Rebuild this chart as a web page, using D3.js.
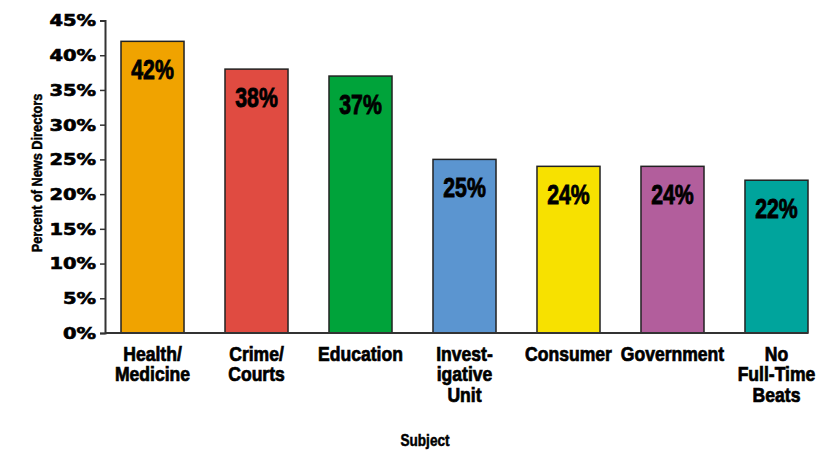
<!DOCTYPE html>
<html>
<head>
<meta charset="utf-8">
<script src="https://cdn.jsdelivr.net/npm/d3@7/dist/d3.min.js"></script>
<style>
  html, body { margin: 0; padding: 0; background: #fff; }
  svg { display: block; }
</style>
</head>
<body>
<svg id="chart" width="834" height="451"></svg>
<script>
// Beats covered by full-time reporters
const categories = [
  ["Health/", "Medicine"],
  ["Crime/", "Courts"],
  ["Education"],
  ["Invest-", "igative", "Unit"],
  ["Consumer"],
  ["Government"],
  ["No", "Full-Time", "Beats"]
];
const values = [42, 38, 37, 25, 24, 24, 22];
const colors = ["#F0A300", "#E04B41", "#00A33A", "#5B95D0", "#F7E100", "#B25E9C", "#00A49C"];
const yTicks = [0, 5, 10, 15, 20, 25, 30, 35, 40, 45];

// Heavy sans, squeezed horizontally for a condensed look
const sans = "'Liberation Sans', Arial, Helvetica, sans-serif";
const wide = "'DejaVu Sans', Verdana, sans-serif";

const svg = d3.select("#chart");
const keys = categories.map((c, i) => i);

const x = d3.scaleBand()
  .domain(keys)
  .range([121, 808])
  .paddingInner(0.394)
  .paddingOuter(0);

const y = d3.scaleLinear()
  .domain([0, 45])
  .range([333, 20.5]);

const cx = i => x(i) + x.bandwidth() / 2;

// Extra stroke on glyphs to thicken them toward a black weight
const heavy = (sel, w) => sel.attr("stroke", "#000").attr("stroke-width", w).attr("paint-order", "stroke");

// Bars
svg.append("g").selectAll("rect")
  .data(values)
  .join("rect")
  .attr("x", (d, i) => x(i))
  .attr("y", d => y(d))
  .attr("width", x.bandwidth())
  .attr("height", d => y(0) - y(d))
  .attr("fill", (d, i) => colors[i])
  .attr("stroke", "#222")
  .attr("stroke-width", 1.5);

// Value labels inside the bars
svg.append("g").selectAll("g")
  .data(values)
  .join("g")
  .attr("transform", (d, i) => `translate(${cx(i)},${y(d) + 38}) scale(0.76,1)`)
  .append("text")
  .attr("text-anchor", "middle")
  .attr("font-family", sans)
  .attr("font-weight", "bold")
  .attr("font-size", 28)
  .attr("fill", "#000")
  .call(heavy, 0.9)
  .text(d => d + "%");

// Y axis
const yAxis = svg.append("g")
  .attr("transform", "translate(105,0)")
  .call(d3.axisLeft(y).tickValues(yTicks).tickSize(5).tickPadding(0).tickFormat(d => d + "%"));
yAxis.select(".domain").attr("stroke", "#333").attr("stroke-width", 2);
yAxis.selectAll(".tick line").attr("stroke", "#333").attr("stroke-width", 1.5);
const sx = 1.3;
yAxis.selectAll(".tick text")
  .attr("font-family", wide)
  .attr("font-weight", "bold")
  .attr("font-size", 15)
  .attr("fill", "#000")
  .attr("x", -9 / sx)
  .attr("dy", "0.36em")
  .attr("transform", `scale(${sx},1)`)
  .call(heavy, 0.6);

// Baseline under the bars
svg.append("line")
  .attr("x1", 105).attr("x2", x(keys.length - 1) + x.bandwidth())
  .attr("y1", y(0)).attr("y2", y(0))
  .attr("stroke", "#333").attr("stroke-width", 2);

// Category labels
const lab = svg.append("g").selectAll("g")
  .data(categories)
  .join("g")
  .attr("transform", (d, i) => `translate(${cx(i)},0) scale(0.9,1)`)
  .append("text")
  .attr("text-anchor", "middle")
  .attr("font-family", sans)
  .attr("font-weight", "bold")
  .attr("font-size", 19.5)
  .attr("fill", "#000")
  .call(heavy, 0.7);
lab.each(function(lines) {
  const t = d3.select(this);
  lines.forEach((s, j) => {
    t.append("tspan")
      .attr("x", 0)
      .attr("y", 361 + j * 20.5)
      .text(s);
  });
});

// Axis titles
svg.append("text")
  .attr("transform", "translate(42,173) rotate(-90) scale(0.88,1)")
  .attr("text-anchor", "middle")
  .attr("font-family", sans)
  .attr("font-weight", "bold")
  .attr("font-size", 14.5)
  .attr("fill", "#000")
  .call(heavy, 0.5)
  .text("Percent of News Directors");

svg.append("text")
  .attr("transform", "translate(425,446) scale(0.85,1)")
  .attr("text-anchor", "middle")
  .attr("font-family", sans)
  .attr("font-weight", "bold")
  .attr("font-size", 16)
  .attr("fill", "#000")
  .call(heavy, 0.5)
  .text("Subject");
</script>
</body>
</html>
